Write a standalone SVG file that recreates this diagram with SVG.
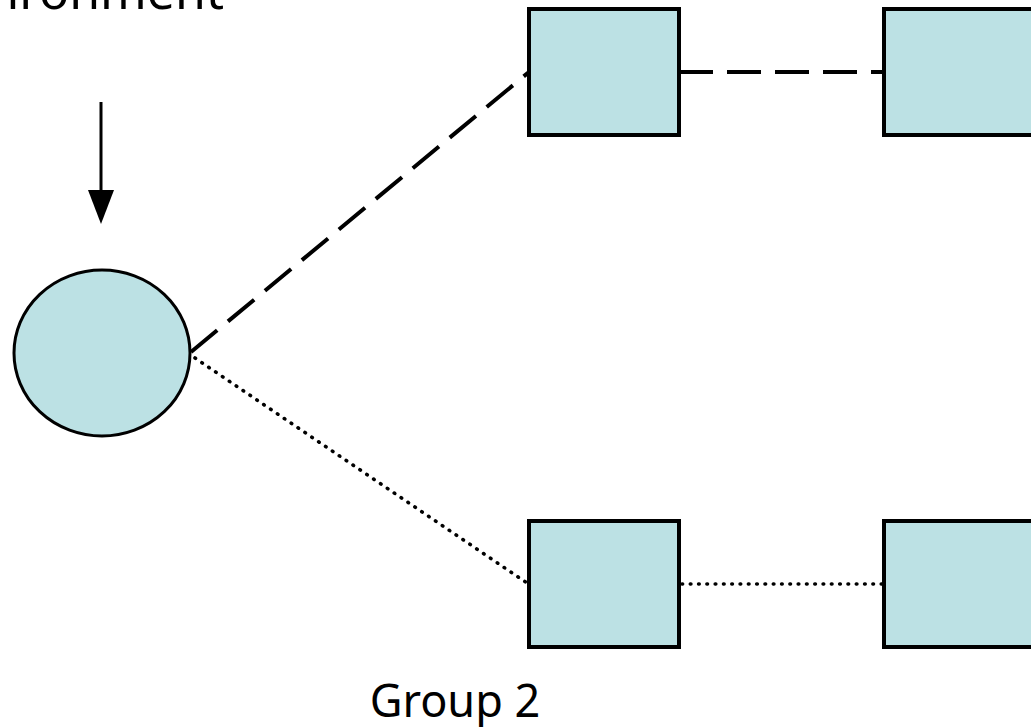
<svg xmlns="http://www.w3.org/2000/svg" width="1031" height="727" viewBox="0 0 1031 727">
<style>
.node{fill:#bce1e4;stroke:#000;stroke-width:4}
.lbl{font-family:"Noto Sans","Open Sans",sans-serif;font-size:45px;fill:#000}
.dash{stroke:#000;stroke-width:4;fill:none;stroke-dasharray:34 14}
.dot{stroke:#000;stroke-width:3.6;fill:none;stroke-dasharray:0.6 7.7;stroke-linecap:round}
</style>
<defs>
<marker id="ah" markerWidth="10" markerHeight="10" refX="0" refY="5" orient="auto" markerUnits="userSpaceOnUse" viewBox="0 0 10 10" overflow="visible">
<path d="M0,-13 L34,0 L0,13 Z" transform="translate(0,5)" fill="#000"/>
</marker>
</defs>
<text class="lbl" x="224" y="9" text-anchor="end" style="font-size:50px">Environment</text>
<text class="lbl" x="455" y="717" text-anchor="middle">Group 2</text>
<g id="connectors">
<line x1="101" y1="102" x2="101" y2="190" stroke="#000" stroke-width="3" marker-end="url(#ah)"/>
<line class="dash" x1="191" y1="352" x2="529" y2="72"/>
<line class="dash" x1="679" y1="72" x2="884" y2="72"/>
<line class="dot" x1="195" y1="358" x2="527" y2="583"/>
<line class="dot" x1="682" y1="584" x2="884" y2="584"/>
</g>
<g id="start"><ellipse class="node" cx="102" cy="353" rx="88" ry="83" style="stroke-width:3"/></g>
<g id="a1"><rect class="node" x="529" y="9" width="150" height="126"/></g>
<g id="a2"><rect class="node" x="884" y="9" width="160" height="126"/></g>
<g id="b1"><rect class="node" x="529" y="521" width="150" height="126"/></g>
<g id="b2"><rect class="node" x="884" y="521" width="160" height="126"/></g>
</svg>
